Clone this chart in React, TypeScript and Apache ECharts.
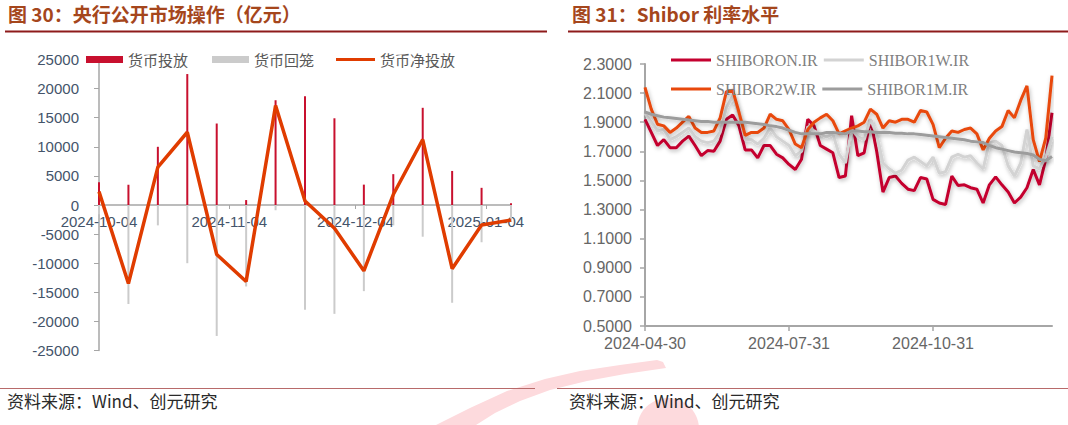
import React, { useEffect, useRef } from "react";
import * as echarts from "echarts";

// ---------- Left chart: 央行公开市场操作（亿元） ----------
const opDates = [
  "2024-10-04", "2024-10-11", "2024-10-18", "2024-10-25", "2024-11-01",
  "2024-11-08", "2024-11-15", "2024-11-22", "2024-11-29", "2024-12-06",
  "2024-12-13", "2024-12-20", "2024-12-27", "2025-01-03", "2025-01-10",
];
const injection = [3900, 3500, 10000, 22500, 14000, 850, 18000, 18700, 14900, 3500, 5300, 16700, 5850, 2950, 300];
const withdrawal = [-1600, -17000, -3500, -10000, -22500, -14000, -900, -18000, -18700, -14800, -3500, -5450, -16800, -6400, -2900];
const netInjection = [2300, -13500, 6500, 12500, -8500, -13150, 17100, 700, -4000, -11300, 1800, 11250, -10950, -3450, -2600];
const opTickDates = ["2024-10-04", "2024-11-04", "2024-12-04", "2025-01-04"];

// ---------- Right chart: Shibor 利率水平 ----------
const shiborDates = [
  "2024-04-30", "2024-05-04", "2024-05-08", "2024-05-12", "2024-05-16", "2024-05-20", "2024-05-24", "2024-05-28",
  "2024-06-01", "2024-06-05", "2024-06-09", "2024-06-13", "2024-06-17", "2024-06-21", "2024-06-25", "2024-06-29",
  "2024-07-03", "2024-07-07", "2024-07-11", "2024-07-15", "2024-07-19", "2024-07-23", "2024-07-27", "2024-07-31",
  "2024-08-04", "2024-08-08", "2024-08-12", "2024-08-16", "2024-08-20", "2024-08-24", "2024-08-28", "2024-09-01",
  "2024-09-05", "2024-09-09", "2024-09-13", "2024-09-17", "2024-09-21", "2024-09-25", "2024-09-29", "2024-10-03",
  "2024-10-07", "2024-10-11", "2024-10-15", "2024-10-19", "2024-10-23", "2024-10-27", "2024-10-31", "2024-11-04",
  "2024-11-08", "2024-11-12", "2024-11-16", "2024-11-20", "2024-11-24", "2024-11-28", "2024-12-02", "2024-12-06",
  "2024-12-10", "2024-12-14", "2024-12-18", "2024-12-22", "2024-12-26", "2024-12-30", "2025-01-03", "2025-01-07",
  "2025-01-11", "2025-01-15",
];
const shiborON = [
  1.92, 1.83, 1.74, 1.78, 1.725, 1.725, 1.77, 1.805, 1.74, 1.67,
  1.705, 1.70, 1.77, 1.92, 1.95, 1.875, 1.71, 1.71, 1.655, 1.74,
  1.74, 1.68, 1.655, 1.61, 1.575, 1.645, 1.92, 1.875, 1.74, 1.715,
  1.69, 1.52, 1.53, 1.945, 1.67, 1.69, 1.92, 1.70, 1.42, 1.52,
  1.53, 1.48, 1.44, 1.43, 1.52, 1.51, 1.37, 1.345, 1.335, 1.53,
  1.465, 1.47, 1.45, 1.44, 1.345, 1.47, 1.525, 1.47, 1.42, 1.345,
  1.385, 1.45, 1.575, 1.47, 1.645, 1.965,
];
const shibor1W = [
  1.96, 1.90, 1.84, 1.85, 1.78, 1.80, 1.83, 1.86, 1.80, 1.77,
  1.76, 1.77, 1.83, 2.00, 2.08, 1.95, 1.78, 1.78, 1.75, 1.79,
  1.86, 1.80, 1.77, 1.74, 1.67, 1.70, 1.87, 1.84, 1.82, 1.80,
  1.82, 1.68, 1.62, 1.85, 1.80, 1.78, 1.92, 1.82, 1.62, 1.58,
  1.55, 1.57, 1.64, 1.66, 1.63, 1.60, 1.66, 1.55, 1.56, 1.66,
  1.68, 1.66, 1.67, 1.62, 1.58, 1.76, 1.77, 1.74, 1.60, 1.53,
  1.62, 1.85, 1.60, 1.58, 1.66, 1.80,
];
const shibor2W = [
  2.14, 1.99, 1.886, 1.875, 1.83, 1.86, 1.90, 1.94, 1.86, 1.83,
  1.83, 1.84, 1.93, 2.11, 2.12, 1.97, 1.81, 1.83, 1.83, 1.86,
  1.955, 1.92, 1.91, 1.85, 1.75, 1.725, 1.85, 1.90, 1.93, 1.955,
  1.91, 1.82, 1.84, 1.86, 1.875, 1.90, 1.99, 1.955, 1.86, 1.91,
  1.90, 1.92, 1.92, 1.90, 1.98, 1.97, 1.885, 1.725, 1.79, 1.84,
  1.83, 1.85, 1.86, 1.82, 1.71, 1.79, 1.84, 1.87, 1.98, 1.93,
  2.05, 2.15, 1.78, 1.63, 1.79, 2.22,
];
const shibor1M = [
  1.97, 1.955, 1.945, 1.935, 1.93, 1.925, 1.92, 1.915, 1.91, 1.905,
  1.905, 1.90, 1.90, 1.90, 1.90, 1.90, 1.90, 1.895, 1.89, 1.885,
  1.875, 1.87, 1.86, 1.845, 1.83, 1.82, 1.82, 1.82, 1.82, 1.83,
  1.83, 1.825, 1.82, 1.84, 1.84, 1.835, 1.835, 1.83, 1.83, 1.83,
  1.825, 1.825, 1.82, 1.82, 1.815, 1.81, 1.805, 1.80, 1.795, 1.79,
  1.785, 1.78, 1.77, 1.765, 1.76, 1.74, 1.725, 1.715, 1.705, 1.695,
  1.69, 1.685, 1.675, 1.645, 1.635, 1.665,
];
const shiborTickDates = ["2024-04-30", "2024-07-31", "2024-10-31"];

const leftTitle = "图 30：央行公开市场操作（亿元）";
const rightTitle = "图 31：Shibor 利率水平";
const sourceNote = "资料来源：Wind、创元研究";

// dates are placed on a numeric (day-number) axis
function toDay(s: string): number {
  const [y, m, d] = s.split("-").map(Number);
  return Math.round(Date.UTC(y, m - 1, d) / 86400000);
}
function fmtDay(v: number): string {
  const d = new Date(Math.round(v) * 86400000);
  const mm = String(d.getUTCMonth() + 1).padStart(2, "0");
  const dd = String(d.getUTCDate()).padStart(2, "0");
  return `${d.getUTCFullYear()}-${mm}-${dd}`;
}
const pairs = (dates: string[], vals: number[]) => dates.map((d, i) => [toDay(d), vals[i]]);

const AXIS_GRAY = "#A6A6A6";
const CJK = "'Noto Sans CJK SC', sans-serif";
const SANS = "'Liberation Sans', Arial, sans-serif";
const SERIF = "'Liberation Serif', 'Times New Roman', serif";
const lineShadow = { shadowColor: "rgba(0,0,0,0.28)", shadowBlur: 4, shadowOffsetX: 1, shadowOffsetY: 2 };

const LEFT_GRID = { left: 99, top: 59.5, width: 412, height: 291 };
const RIGHT_GRID = { left: 645, top: 64, width: 407, height: 262 };

export default function App() {
  const ref = useRef<HTMLDivElement>(null);
  useEffect(() => {
    document.body.style.margin = "0";
    if (!ref.current) return;
    const chart = echarts.init(ref.current, undefined, { renderer: "svg" });
    const opTicks = opTickDates.map(toDay);
    const shTicks = shiborTickDates.map(toDay);
    const legendCJK = { fontFamily: CJK, fontSize: 15, color: "#595959" };
    const legendSerif = { fontFamily: SERIF, fontSize: 16, color: "#7F7F7F" };
    const option: any = {
      animation: false,
      backgroundColor: "#ffffff",
      textStyle: { fontFamily: SANS },
      grid: [LEFT_GRID, RIGHT_GRID],
      xAxis: [
        {
          type: "value",
          gridIndex: 0,
          position: "bottom",
          // the axis is drawn through y = 0 (middle of the symmetric range)
          offset: -LEFT_GRID.height / 2,
          min: toDay(opDates[0]),
          max: toDay(opDates[opDates.length - 1]),
          axisLine: { show: true, onZero: false, lineStyle: { color: AXIS_GRAY, width: 1.5 } },
          axisTick: { show: true, customValues: opTicks, length: 4, lineStyle: { color: AXIS_GRAY } },
          axisLabel: {
            customValues: opTicks,
            formatter: (v: number) => fmtDay(v),
            color: "#44546A",
            fontSize: 15,
            fontFamily: SANS,
            margin: 9,
            hideOverlap: false,
          },
          splitLine: { show: false },
        },
        {
          type: "value",
          gridIndex: 1,
          min: toDay(shiborDates[0]),
          max: toDay(shiborDates[shiborDates.length - 1]),
          axisLine: { show: true, onZero: false, lineStyle: { color: AXIS_GRAY, width: 2 } },
          axisTick: { show: true, customValues: shTicks, length: 5, lineStyle: { color: AXIS_GRAY, width: 1.5 } },
          axisLabel: {
            customValues: shTicks,
            formatter: (v: number) => fmtDay(v),
            color: "#666666",
            fontSize: 16,
            fontFamily: SANS,
            margin: 9,
            hideOverlap: false,
          },
          splitLine: { show: false },
        },
      ],
      yAxis: [
        {
          type: "value",
          gridIndex: 0,
          min: -25000,
          max: 25000,
          interval: 5000,
          axisLine: { show: true, onZero: false, lineStyle: { color: AXIS_GRAY, width: 1.5 } },
          axisTick: { show: true, length: 5, lineStyle: { color: AXIS_GRAY } },
          axisLabel: {
            color: "#44546A",
            fontSize: 15,
            fontFamily: SANS,
            margin: 20,
            formatter: (v: number) => String(v),
          },
          splitLine: { show: false },
        },
        {
          type: "value",
          gridIndex: 1,
          min: 0.5,
          max: 2.3,
          interval: 0.2,
          axisLine: { show: true, onZero: false, lineStyle: { color: AXIS_GRAY, width: 2 } },
          axisTick: { show: true, length: 5, lineStyle: { color: AXIS_GRAY, width: 1.5 } },
          axisLabel: {
            color: "#666666",
            fontSize: 16,
            fontFamily: SANS,
            margin: 13,
            formatter: (v: number) => v.toFixed(4),
          },
          splitLine: { show: false },
        },
      ],
      legend: [
        {
          left: 86,
          top: 52,
          padding: 0,
          itemWidth: 37,
          itemHeight: 7,
          itemGap: 24,
          icon: "rect",
          data: ["货币投放", "货币回笼"],
          textStyle: legendCJK,
        },
        {
          left: 336,
          top: 52,
          padding: 0,
          itemWidth: 39,
          itemHeight: 3,
          icon: "rect",
          data: ["货币净投放"],
          textStyle: legendCJK,
        },
        {
          left: 671,
          top: 52,
          padding: 0,
          itemWidth: 40,
          itemHeight: 3,
          itemGap: 6,
          icon: "rect",
          data: ["SHIBORON.IR", "SHIBOR1W.IR"],
          textStyle: legendSerif,
        },
        {
          left: 671,
          top: 81,
          padding: 0,
          itemWidth: 40,
          itemHeight: 3,
          itemGap: 6,
          icon: "rect",
          data: ["SHIBOR2W.IR", "SHIBOR1M.IR"],
          textStyle: legendSerif,
        },
      ],
      series: [
        {
          name: "货币投放",
          type: "bar",
          xAxisIndex: 0,
          yAxisIndex: 0,
          barWidth: 2,
          barGap: "-100%",
          itemStyle: { color: "#C8102E" },
          data: pairs(opDates, injection),
        },
        {
          name: "货币回笼",
          type: "bar",
          xAxisIndex: 0,
          yAxisIndex: 0,
          barWidth: 2,
          barGap: "-100%",
          itemStyle: { color: "#CBCBCB" },
          data: pairs(opDates, withdrawal),
        },
        {
          name: "货币净投放",
          type: "line",
          xAxisIndex: 0,
          yAxisIndex: 0,
          symbol: "none",
          lineStyle: { color: "#E03C00", width: 3.5 },
          itemStyle: { color: "#E03C00" },
          data: pairs(opDates, netInjection),
        },
        {
          name: "SHIBORON.IR",
          type: "line",
          xAxisIndex: 1,
          yAxisIndex: 1,
          symbol: "none",
          lineStyle: { color: "#C4002F", width: 3, ...lineShadow },
          itemStyle: { color: "#C4002F" },
          data: pairs(shiborDates, shiborON),
        },
        {
          name: "SHIBOR1W.IR",
          type: "line",
          xAxisIndex: 1,
          yAxisIndex: 1,
          symbol: "none",
          lineStyle: { color: "#D3D3D3", width: 3, ...lineShadow },
          itemStyle: { color: "#D3D3D3" },
          data: pairs(shiborDates, shibor1W),
        },
        {
          name: "SHIBOR2W.IR",
          type: "line",
          xAxisIndex: 1,
          yAxisIndex: 1,
          symbol: "none",
          lineStyle: { color: "#E8480C", width: 3, ...lineShadow },
          itemStyle: { color: "#E8480C" },
          data: pairs(shiborDates, shibor2W),
        },
        {
          name: "SHIBOR1M.IR",
          type: "line",
          xAxisIndex: 1,
          yAxisIndex: 1,
          symbol: "none",
          lineStyle: { color: "#9C9C9C", width: 3, ...lineShadow },
          itemStyle: { color: "#9C9C9C" },
          data: pairs(shiborDates, shibor1M),
        },
      ],
      graphic: [
        {
          type: "polygon",
          z: -10,
          silent: true,
          shape: {
            points: [
              [436, 425], [470, 408], [507, 391], [545, 379], [580, 371], [620, 365], [657, 360],
              [663, 362], [666, 368], [625, 374], [587, 381], [550, 390], [520, 401], [495, 413], [476, 425],
            ],
          },
          style: { fill: "#FDDADD" },
        },
        {
          type: "circle",
          z: -10,
          silent: true,
          shape: { cx: 668, cy: 429, r: 31 },
          style: { fill: "#FDDADD" },
        },
        {
          type: "text",
          left: 8,
          top: 4,
          style: { text: leftTitle, fill: "#A5461C", font: `bold 19px ${CJK}` },
        },
        {
          type: "text",
          left: 572,
          top: 4,
          style: { text: rightTitle, fill: "#A5461C", font: `bold 19px ${CJK}` },
        },
        {
          type: "line",
          shape: { x1: 5, y1: 31.5, x2: 547, y2: 31.5 },
          style: { stroke: "#8E1B1B", lineWidth: 2 },
        },
        {
          type: "line",
          shape: { x1: 568, y1: 31.5, x2: 1068, y2: 31.5 },
          style: { stroke: "#8E1B1B", lineWidth: 2 },
        },
        {
          type: "line",
          shape: { x1: 0, y1: 388.5, x2: 535, y2: 388.5 },
          style: { stroke: "#B86A6A", lineWidth: 1 },
        },
        {
          type: "line",
          shape: { x1: 557, y1: 388.5, x2: 1068, y2: 388.5 },
          style: { stroke: "#B86A6A", lineWidth: 1 },
        },
        {
          type: "text",
          left: 7,
          top: 392,
          style: { text: sourceNote, fill: "#2A2A2A", font: `17px ${CJK}` },
        },
        {
          type: "text",
          left: 569,
          top: 392,
          style: { text: sourceNote, fill: "#2A2A2A", font: `17px ${CJK}` },
        },
      ],
    };
    chart.setOption(option);
    return () => chart.dispose();
  }, []);
  return <div ref={ref} style={{ width: 1068, height: 425 }} />;
}
